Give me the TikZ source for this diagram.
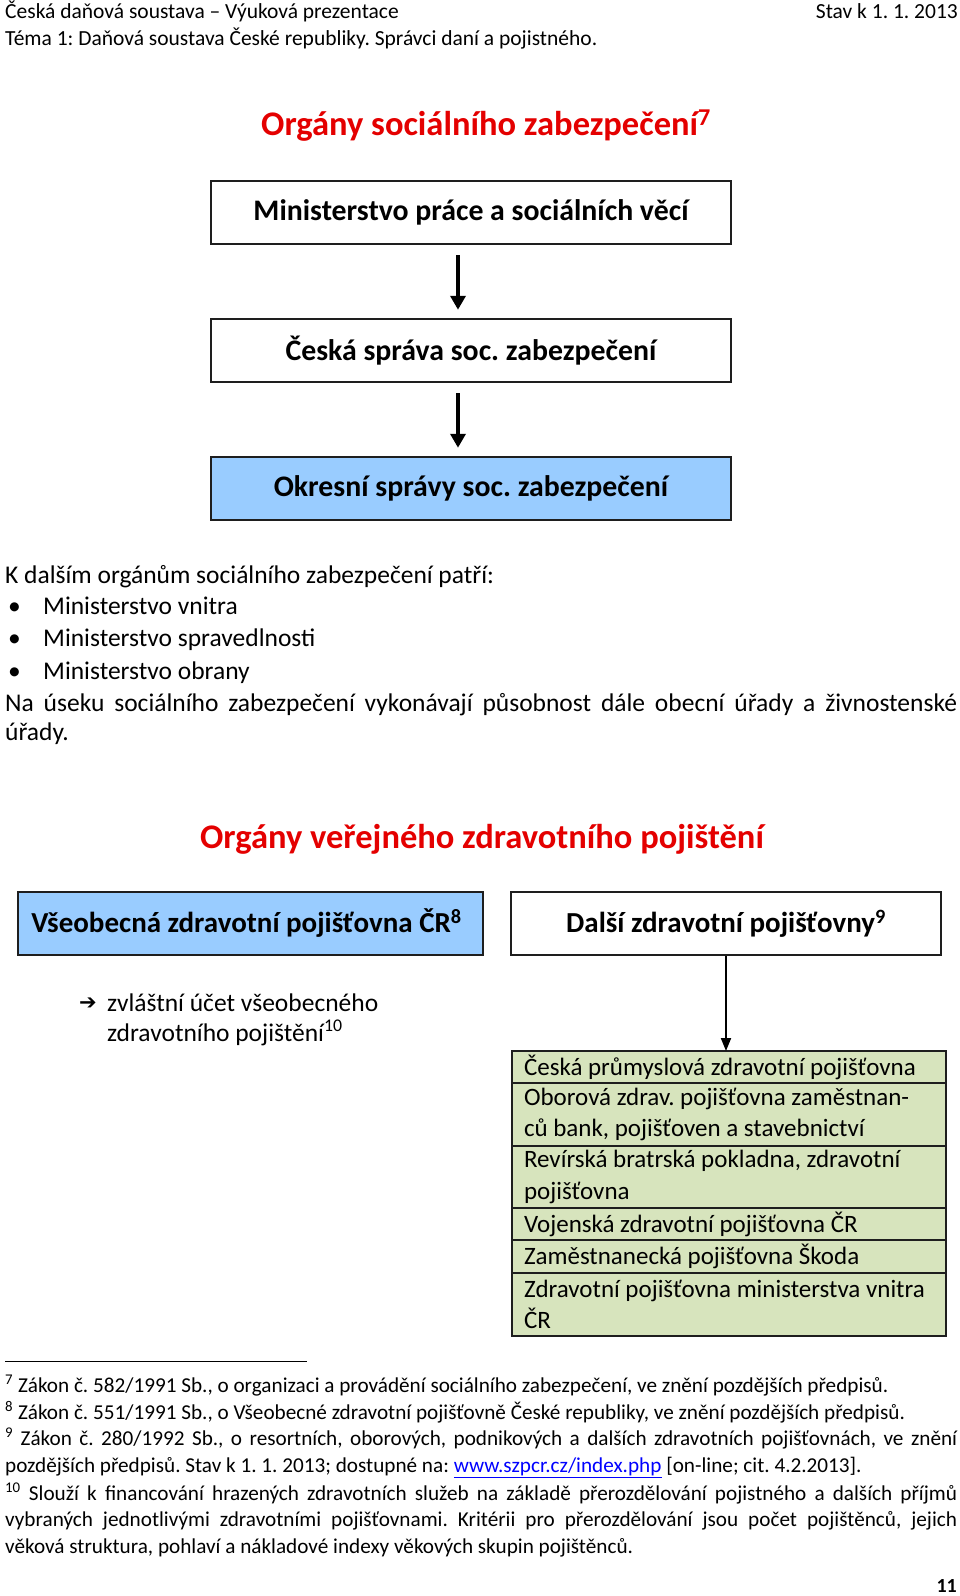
\documentclass[tikz,border=0pt]{standalone}
\usepackage{fontspec}
\setmainfont{Carlito}
\newfontfamily\dejavu{DejaVu Sans}
\usetikzlibrary{arrows.meta}
\definecolor{boxblue}{RGB}{153,204,255}
\definecolor{tabgreen}{RGB}{215,228,189}
\definecolor{titlered}{RGB}{228,0,0}
\definecolor{linkblue}{RGB}{0,0,255}
\definecolor{border}{RGB}{30,30,30}
\newcommand{\rowtext}[2]{\parbox[c][#1][c]{410pt}{\raggedright #2}}
\begin{document}
\frenchspacing
\begin{tikzpicture}[x=1pt,y=-1pt,
  txt/.style={inner sep=0pt, anchor=base west},
  txtr/.style={inner sep=0pt, anchor=base east},
  hdr/.style={txt, font=\fontsize{21.5}{24}\selectfont},
  body/.style={txt, font=\fontsize{25.5}{31}\selectfont},
  fn/.style={txt, font=\fontsize{21.2}{26}\selectfont},
  redtitle/.style={inner sep=0pt, anchor=base, text=titlered, font=\fontsize{34.5}{40}\selectfont\bfseries},
  orgbox/.style={draw=border, line width=2.5pt, minimum height=63pt, minimum width=520pt, inner sep=0pt, font=\fontsize{29.8}{34}\selectfont\bfseries},
  zpbox/.style={draw=border, line width=2.5pt, minimum height=63pt, inner sep=0pt, font=\fontsize{29}{34}\selectfont\bfseries},
  bigarrow/.style={line width=4.5pt, -{Triangle[width=15pt,length=14pt]}, shorten <=10pt, shorten >=8pt},
  thinarrow/.style={line width=2pt, -{Triangle[width=10pt,length=13pt]}},
  row/.style={draw=border, line width=2pt, fill=tabgreen, minimum width=434pt, inner xsep=12pt, inner ysep=0pt, outer sep=0pt, anchor=north, font=\fontsize{25}{31.5}\selectfont},
]
\useasboundingbox (0,0) rectangle (960,1596);
\fill[white] (0,0) rectangle (960,1596);

% header
\node[hdr] (h1) at (5,18) {Česká daňová soustava – Výuková prezentace};
\node[hdr, anchor=base east] (h1r) at (958,18) {Stav k 1. 1. 2013};
\node[hdr] (h2) at (5,45) {Téma 1: Daňová soustava České republiky. Správci daní a pojistného.};

% title 1
\node[redtitle] (t1) at (486,135) {Orgány sociálního zabezpečení\textsuperscript{7}};

\node[orgbox] (b1) at (471,212.5) {Ministerstvo práce a sociálních věcí};
\node[orgbox] (b2) at (471,350.5) {Česká správa soc. zabezpečení};
\node[orgbox, fill=boxblue] (b3) at (471,488.5) {Okresní správy soc. zabezpečení};
\draw[bigarrow] ([xshift=-13pt]b1.south) -- ([xshift=-13pt]b2.north);
\draw[bigarrow] ([xshift=-13pt]b2.south) -- ([xshift=-13pt]b3.north);

% list
\node[body] (k) at (5,583) {K dalším orgánům sociálního zabezpečení patří:};
\node[body] (l1b) at (8,614) {•};
\node[body] (l1) at (43,614) {Ministerstvo vnitra};
\node[body] (l2b) at (8,646) {•};
\node[body] (l2) at (43,646) {Ministerstvo spravedlnosti};
\node[body] (l3b) at (8,679) {•};
\node[body] (l3) at (43,679) {Ministerstvo obrany};

\node[body] (na1) at (5,711) {\makebox[952pt][s]{Na úseku sociálního zabezpečení vykonávají působnost dále obecní úřady a živnostenské}};
\node[body] (na2) at (5,740) {úřady.};

% title 2
\node[redtitle] (t2) at (482,848) {Orgány veřejného zdravotního pojištění};

\node[zpbox, fill=boxblue, minimum width=465pt] (vzp) at (250.5,923.5) {\hspace*{-8pt}Všeobecná zdravotní pojišťovna ČR\textsuperscript{8}};
\node[zpbox, minimum width=430pt] (dal) at (726,923.5) {Další zdravotní pojišťovny\textsuperscript{9}};

\node[txt, font=\fontsize{21}{24}\dejavu] (arr) at (79,1009) {➔};
\node[body] (z1) at (107,1011) {zvláštní účet všeobecného};
\node[body] (z2) at (107,1041) {zdravotního pojištění\textsuperscript{10}};

% table
\node[row] (r1) at (729,1051) {\rowtext{32pt}{Česká průmyslová zdravotní pojišťovna}};
\node[row] (r2) at (r1.south) {\rowtext{63pt}{Oborová zdrav. pojišťovna zaměstnan-\\ců bank, pojišťoven a stavebnictví}};
\node[row] (r3) at (r2.south) {\rowtext{62pt}{Revírská bratrská pokladna, zdravotní\\pojišťovna}};
\node[row] (r4) at (r3.south) {\rowtext{32pt}{Vojenská zdravotní pojišťovna ČR}};
\node[row] (r5) at (r4.south) {\rowtext{33pt}{Zaměstnanecká pojišťovna Škoda}};
\node[row] (r6) at (r5.south) {\rowtext{63pt}{Zdravotní pojišťovna ministerstva vnitra\\ČR}};
\draw[thinarrow] (dal.south) -- (dal.south |- r1.north);

% footnotes
\draw[line width=1pt] (5,1361) coordinate (fa) -- (307,1361) coordinate (fb);
\node[fn] (f7) at (5,1392) {\textsuperscript{7} Zákon č. 582/1991 Sb., o organizaci a provádění sociálního zabezpečení, ve znění pozdějších předpisů.};
\node[fn] (f8) at (5,1419) {\textsuperscript{8} Zákon č. 551/1991 Sb., o Všeobecné zdravotní pojišťovně České republiky, ve znění pozdějších předpisů.};
\node[fn] (f9a) at (5,1445) {\makebox[952pt][s]{\textsuperscript{9} Zákon č. 280/1992 Sb., o resortních, oborových, podnikových a dalších zdravotních pojišťovnách, ve znění}};
\node[fn] (f9b) at (5,1472) {pozdějších předpisů. Stav k 1. 1. 2013; dostupné na: \textcolor{linkblue}{\underline{www.szpcr.cz/index.php}} [on-line; cit. 4.2.2013].};
\node[fn] (f10a) at (5,1500) {\makebox[952pt][s]{\textsuperscript{10} Slouží k financování hrazených zdravotních služeb na základě přerozdělování pojistného a dalších příjmů}};
\node[fn] (f10b) at (5,1526) {\makebox[952pt][s]{vybraných jednotlivými zdravotními pojišťovnami. Kritérii pro přerozdělování jsou počet pojištěnců, jejich}};
\node[fn] (f10c) at (5,1553) {věková struktura, pohlaví a nákladové indexy věkových skupin pojištěnců.};

\node[txtr, font=\fontsize{20}{24}\selectfont\bfseries] (pg) at (957,1592) {11};
\end{tikzpicture}
\end{document}
